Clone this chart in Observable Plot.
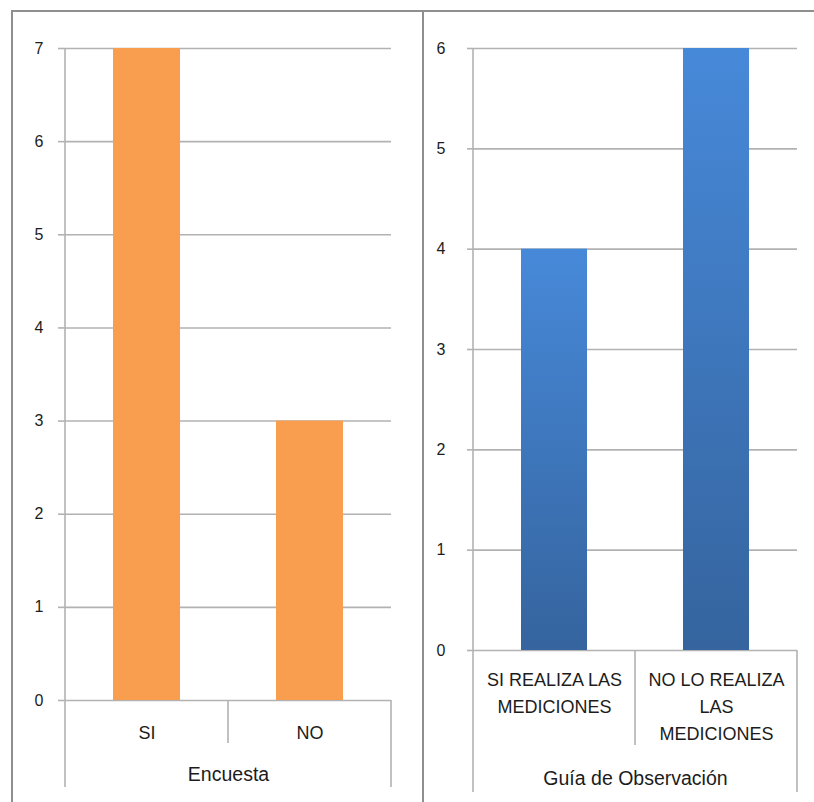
<!DOCTYPE html>
<html>
<head>
<meta charset="utf-8">
<script src="https://cdn.jsdelivr.net/npm/d3@7"></script>
<script src="https://cdn.jsdelivr.net/npm/@observablehq/plot@0.6"></script>
<style>
  html, body { margin: 0; padding: 0; background: #fff; }
  #board { position: relative; width: 814px; height: 802px; overflow: hidden; font-family: "Liberation Sans", Arial, sans-serif; }
  #frame { position: absolute; left: 11px; top: 10px; width: 810px; height: 800px; border-top: 2px solid #8f8f8f; border-left: 2px solid #8f8f8f; }
  #split { position: absolute; left: 422px; top: 10px; width: 2px; height: 800px; background: #8f8f8f; }
  .panel { position: absolute; top: 0; }
  .panel svg { display: block; }
</style>
</head>
<body>
<div id="board">
  <div id="frame"></div>
  <div id="split"></div>
  <div id="left" class="panel" style="left:0px"></div>
  <div id="right" class="panel" style="left:423px"></div>
</div>
<script>
// Encuesta
const encuestaCategorias = ["SI", "NO"];
const encuestaValores = [7, 3];
const encuestaTicks = [0, 1, 2, 3, 4, 5, 6, 7];
const encuestaGrupo = "Encuesta";

// Guía de Observación
const guiaCategorias = ["SI REALIZA LAS\nMEDICIONES", "NO LO REALIZA\nLAS\nMEDICIONES"];
const guiaValores = [4, 6];
const guiaTicks = [0, 1, 2, 3, 4, 5, 6];
const guiaGrupo = "Guía de Observación";

const GRID = "#b2b2b2";
const INK = "#1c1c1c";

// Vertical axis line plus the category bracket lines under the baseline
function bracket(categories, yMax, dividerDepth, outerDepth) {
  return (index, scales, values, dims) => {
    const x = scales.x, y = scales.y;
    const y0 = y(0);
    const left = dims.marginLeft, right = dims.width - dims.marginRight;
    const g = d3.create("svg:g")
      .attr("stroke", GRID)
      .attr("stroke-width", 1.6)
      .attr("fill", "none");
    g.append("line").attr("x1", left).attr("x2", left).attr("y1", y(yMax)).attr("y2", y0 + outerDepth);
    g.append("line").attr("x1", right).attr("x2", right).attr("y1", y0).attr("y2", y0 + outerDepth);
    categories.slice(1).forEach((c) => {
      const xb = x(c);
      g.append("line").attr("x1", xb).attr("x2", xb).attr("y1", y0).attr("y2", y0 + dividerDepth);
    });
    return g.node();
  };
}

// Vertical gradient used by the blue bars
function blueGradient() {
  const defs = d3.create("svg:defs");
  const lg = defs.append("linearGradient")
    .attr("id", "guiaAzul")
    .attr("x1", 0).attr("y1", 0).attr("x2", 0).attr("y2", 1);
  lg.append("stop").attr("offset", "0%").attr("stop-color", "#4789d9");
  lg.append("stop").attr("offset", "100%").attr("stop-color", "#35649e");
  return defs.node();
}

function panel({categories, values, ticks, group, width, marginLeft, marginRight, marginBottom,
                fill, inset, tickSize, tickPadding, catPadding, groupDy, dividerDepth, outerDepth, extra = []}) {
  const rows = categories.map((c, i) => ({categoria: c, valor: values[i]}));
  const yMax = d3.max(ticks);
  return Plot.plot({
    width,
    height: 802,
    marginTop: 48,
    marginLeft,
    marginRight,
    marginBottom,
    style: {fontFamily: "'Liberation Sans', Arial, sans-serif", color: INK, background: "transparent"},
    x: {domain: categories, padding: 0},
    y: {domain: [0, yMax]},
    marks: [
      ...extra,
      Plot.ruleY(ticks, {stroke: GRID, strokeWidth: 1.6}),
      Plot.barY(rows, {x: "categoria", y: "valor", fill, insetLeft: inset, insetRight: inset}),
      bracket(categories, yMax, dividerDepth, outerDepth),
      Plot.axisY({ticks, tickSize, tickPadding, stroke: GRID, strokeWidth: 1.6, fill: INK, fontSize: 16, label: null, tickFormat: d3.format("d")}),
      Plot.axisX({tickSize: 0, tickPadding: catPadding, fontSize: 18, lineHeight: 1.5, fill: INK, label: null}),
      Plot.text([group], {frameAnchor: "bottom", dy: groupDy, fontSize: 19.5, fill: INK, text: (d) => d})
    ]
  });
}

document.getElementById("left").append(panel({
  categories: encuestaCategorias,
  values: encuestaValores,
  ticks: encuestaTicks,
  group: encuestaGrupo,
  width: 423,
  marginLeft: 65,
  marginRight: 32,
  marginBottom: 102,
  fill: "#f99e4f",
  inset: 48,
  tickSize: 7,
  tickPadding: 15,
  catPadding: 19,
  groupDy: 80,
  dividerDepth: 43,
  outerDepth: 87
}));

document.getElementById("right").append(panel({
  categories: guiaCategorias,
  values: guiaValores,
  ticks: guiaTicks,
  group: guiaGrupo,
  width: 391,
  marginLeft: 50,
  marginRight: 17,
  marginBottom: 152,
  fill: "url(#guiaAzul)",
  inset: 48,
  tickSize: 6,
  tickPadding: 22,
  catPadding: 16,
  groupDy: 134,
  dividerDepth: 95,
  outerDepth: 142,
  extra: [blueGradient]
}));
</script>
</body>
</html>
